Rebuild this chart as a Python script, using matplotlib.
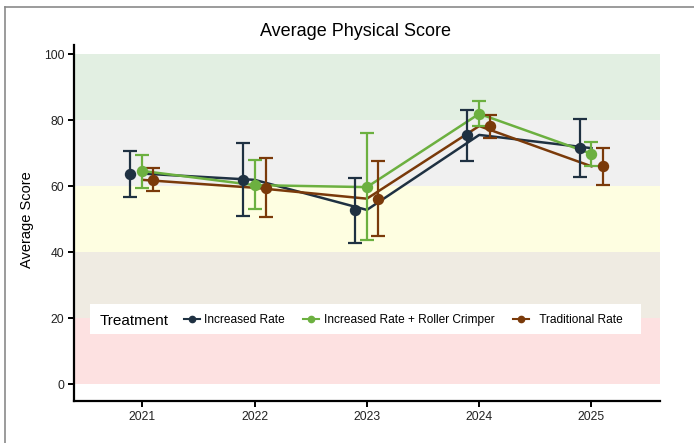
import matplotlib
matplotlib.use("Agg")
import matplotlib.pyplot as plt
from matplotlib.lines import Line2D
from matplotlib.patches import Rectangle

plt.rcParams['font.family'] = ['Liberation Sans', 'DejaVu Sans']

years = ["2021", "2022", "2023", "2024", "2025"]
treatments = ["Increased Rate", "Increased Rate + Roller Crimper", "Traditional Rate"]
colors = ["#1f3142", "#6cb040", "#7a3a0a"]

# mean score and error bar limits per treatment, per year
means = {
    "Increased Rate": [63.8, 61.9, 52.8, 75.5, 71.5],
    "Increased Rate + Roller Crimper": [64.6, 60.3, 59.7, 81.9, 69.8],
    "Traditional Rate": [61.9, 59.5, 56.2, 78.2, 66.0],
}
lower = {
    "Increased Rate": [56.8, 51.0, 42.7, 67.7, 62.8],
    "Increased Rate + Roller Crimper": [59.5, 53.0, 43.6, 78.1, 66.0],
    "Traditional Rate": [58.5, 50.6, 44.9, 74.5, 60.2],
}
upper = {
    "Increased Rate": [70.5, 73.0, 62.6, 82.9, 80.2],
    "Increased Rate + Roller Crimper": [69.3, 67.8, 76.2, 85.9, 73.5],
    "Traditional Rate": [65.4, 68.4, 67.5, 81.6, 71.6],
}
dodge = [-0.105, 0.0, 0.1]

# score bands: (low, high, colour)
bands = [(0, 20, "#fde1e1"), (20, 40, "#efebe2"), (40, 60, "#fefee1"),
         (60, 80, "#f0f0f0"), (80, 100, "#e2efe2")]

fig = plt.figure(figsize=(6.94, 4.43), dpi=100)
ax = fig.add_axes([0.1066, 0.0948, 0.8444, 0.8034])

for lo, hi, c in bands:
    ax.axhspan(lo, hi, color=c, lw=0, zorder=0)

x = list(range(len(years)))
for t, c in zip(treatments, colors):
    ax.plot(x, means[t], color=c, lw=1.8, zorder=2)

for t, c, d in zip(treatments, colors, dodge):
    xs = [i + d for i in x]
    m = means[t]
    err = [[mv - lv for mv, lv in zip(m, lower[t])],
           [uv - mv for mv, uv in zip(m, upper[t])]]
    ax.errorbar(xs, m, yerr=err, fmt="o", color=c, ms=7.2, elinewidth=1.6,
                capsize=5, capthick=1.6, zorder=3)

ax.set_xlim(-0.608, 4.61)
ax.set_ylim(-5.06, 102.7)
ax.set_xticks(x)
ax.set_xticklabels(years)
ax.set_yticks([0, 20, 40, 60, 80, 100])
for s in ["top", "right"]:
    ax.spines[s].set_visible(False)
for s in ["left", "bottom"]:
    ax.spines[s].set_linewidth(1.6)
ax.tick_params(axis="both", length=4, width=1.4, labelsize=8.7, pad=3,
               labelcolor="#222222")
ax.set_ylabel("Average Score", fontsize=10.5, labelpad=8)
ax.yaxis.set_label_coords(-0.068, 0.51)

fig.text(355 / 694, 1 - 32 / 443, "Average Physical Score", ha="center",
         va="center", fontsize=13)

# legend box
ax.add_patch(Rectangle((0.027, 0.188), 0.941, 0.084, transform=ax.transAxes,
                       facecolor="white", edgecolor="none", zorder=4))
ax.text(0.044, 0.226, "Treatment", transform=ax.transAxes, fontsize=11,
        va="center", ha="left", zorder=5)
handles = [Line2D([], [], color=c, lw=1.5, marker="o", ms=4.5) for c in colors]
labels = [treatments[0], treatments[1], "  " + treatments[2]]
leg = ax.legend(handles, labels, ncol=3, frameon=False, loc="center left",
                bbox_to_anchor=(0.187, 0.227), fontsize=8.6, handlelength=1.35,
                handletextpad=0.4, columnspacing=1.5, borderpad=0,
                borderaxespad=0)
leg.set_zorder(5)

# outer frame
fig.add_artist(Line2D([5 / 694, 5 / 694], [0, 1 - 7 / 443], color="#8a8a8a",
                      lw=1.2, transform=fig.transFigure))
fig.add_artist(Line2D([5 / 694, 1], [1 - 7 / 443, 1 - 7 / 443], color="#8a8a8a",
                      lw=1.2, transform=fig.transFigure))

fig.savefig("out.png", dpi=100)
